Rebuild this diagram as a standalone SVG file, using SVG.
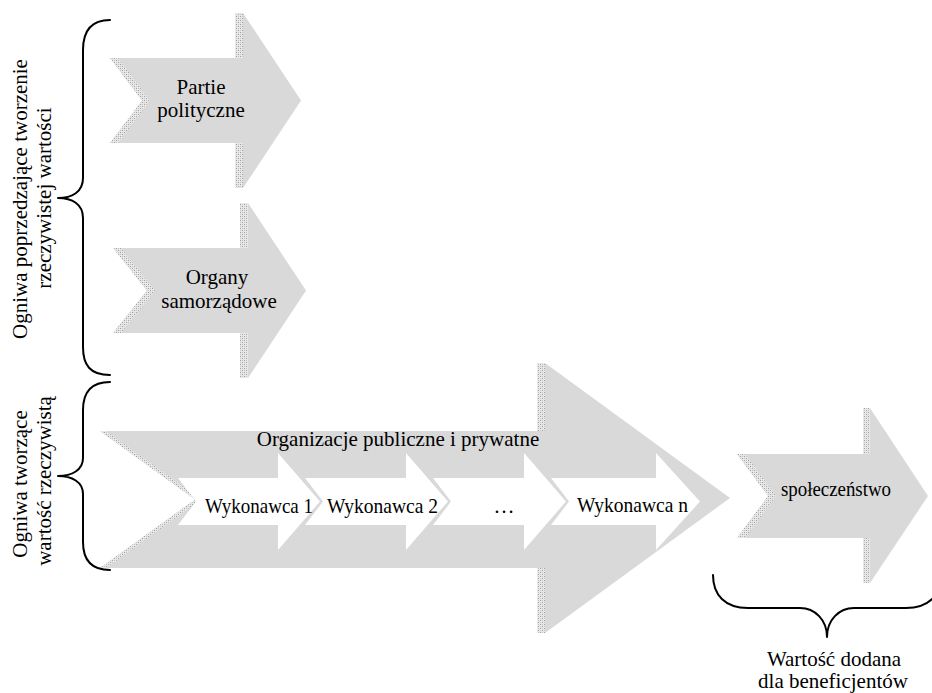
<svg xmlns="http://www.w3.org/2000/svg" width="932" height="693" viewBox="0 0 932 693">
  <style>
    .arrow { fill: #d9d9d9; stroke: none; }
    .hatch { fill: url(#hatch); stroke: none; }
    .inner { fill: #ffffff; stroke: none; }
    .brace { fill: none; stroke: #000000; stroke-width: 2; stroke-linecap: round; stroke-linejoin: round; }
    text { font-family: "Liberation Serif", "Times New Roman", serif; font-size: 21px; fill: #000000; }
    .mid { text-anchor: middle; }
  </style>
  <defs>
    <pattern id="hatch" width="4" height="4" patternUnits="userSpaceOnUse">
      <rect width="4" height="4" fill="#e8e8e8"/>
      <rect x="0" y="0" width="1" height="1" fill="#a0a0a0"/>
      <rect x="2" y="2" width="1" height="1" fill="#a0a0a0"/>
      <rect x="2" y="0" width="1" height="1" fill="#c4c4c4"/>
      <rect x="0" y="2" width="1" height="1" fill="#c4c4c4"/>
    </pattern>
  </defs>

  <rect width="932" height="693" fill="#ffffff"/>

  <g id="partie" font-family="Liberation Serif, serif">
    <polygon class="arrow" points="110,58 243,58 243,13 301,100.5 243,188 243,143 110,143 142,100.5"/>
    <rect class="hatch" x="235" y="13" width="8" height="45"/>
    <rect class="hatch" x="235" y="143" width="8" height="45"/>
    <polygon class="hatch" points="110,58 118,58 150,100.5 118,143 110,143 142,100.5"/>
    <text class="mid" x="201" y="94">Partie</text>
    <text class="mid" x="201" y="117">polityczne</text>
  </g>

  <g id="organy">
    <polygon class="arrow" points="113,248 248,248 248,203 306,290.5 248,378 248,333 113,333 147,290.5"/>
    <rect class="hatch" x="240" y="203" width="8" height="45"/>
    <rect class="hatch" x="240" y="333" width="8" height="45"/>
    <polygon class="hatch" points="113,248 121,248 155,290.5 121,333 113,333 147,290.5"/>
    <text class="mid" x="217" y="284">Organy</text>
    <text class="mid" x="219" y="308">samorządowe</text>
  </g>

  <g id="organizacje">
    <polygon class="arrow" points="100,431 545,431 545,363 730,498 545,633 545,568 100,568 195,499.5"/>
    <rect class="hatch" x="537" y="363" width="8" height="68"/>
    <rect class="hatch" x="537" y="568" width="8" height="65"/>
    <polygon class="hatch" points="100,431 106,431 201,499.5 106,568 100,568 195,499.5"/>
    <text class="mid" x="398" y="446">Organizacje publiczne i prywatne</text>
  </g>

  <g id="wykonawca1">
    <polygon class="inner" points="178,478 278,478 278,453 320,501.5 278,550 278,525 178,525 196,501.5"/>
    <text x="205" y="513" textLength="108" lengthAdjust="spacingAndGlyphs">Wykonawca 1</text>
  </g>

  <g id="wykonawca2">
    <polygon class="inner" points="305,478 406,478 406,453 448,501.5 406,550 406,525 305,525 323,501.5"/>
    <text x="327" y="513" textLength="111" lengthAdjust="spacingAndGlyphs">Wykonawca 2</text>
  </g>

  <g id="wykonawca-dots">
    <polygon class="inner" points="433,478 524,478 524,453 566,501.5 524,550 524,525 433,525 451,501.5"/>
    <text class="mid" x="504" y="513">…</text>
  </g>

  <g id="wykonawcan">
    <polygon class="inner" points="551,478 656,478 656,453 700,501.5 656,550 656,525 551,525 569,501.5"/>
    <text x="577" y="512" textLength="111" lengthAdjust="spacingAndGlyphs">Wykonawca n</text>
  </g>

  <g id="spoleczenstwo">
    <polygon class="arrow" points="737,454 870,454 870,408 928,496 870,583 870,538 737,538 768,496"/>
    <rect class="hatch" x="863" y="408" width="7" height="46"/>
    <rect class="hatch" x="863" y="538" width="7" height="45"/>
    <polygon class="hatch" points="737,454 745,454 776,496 745,538 737,538 768,496"/>
    <text x="781" y="496" textLength="110" lengthAdjust="spacingAndGlyphs">społeczeństwo</text>
  </g>

  <g id="connectors">
    <path class="brace" d="M110,20 C90,20 83,32 83,50 L83,178 C83,192 72,198 58,198 C72,198 83,204 83,218 L83,347 C83,365 90,375 110,375"/>
    <path class="brace" d="M110,382 C90,382 83,394 83,410 L83,458 C83,470 72,476 58,476 C72,476 83,482 83,494 L83,542 C83,558 90,570 110,570"/>
    <path class="brace" d="M713,575 C713,595 725,608 748,608 L800,608 C815,608 827,620 827,637 C827,620 839,608 854,608 L906,608 C929,608 941,595 941,575"/>
  </g>

  <g id="label-poprzedzajace">
    <text class="mid" transform="translate(27,199) rotate(-90)">Ogniwa poprzedzające tworzenie</text>
    <text class="mid" transform="translate(51,198) rotate(-90)">rzeczywistej wartości</text>
  </g>

  <g id="label-tworzace">
    <text class="mid" transform="translate(27,484) rotate(-90)">Ogniwa tworzące</text>
    <text class="mid" transform="translate(51,481) rotate(-90)">wartość rzeczywistą</text>
  </g>

  <g id="label-wartosc-dodana">
    <text class="mid" x="834" y="666">Wartość dodana</text>
    <text class="mid" x="833" y="688">dla beneficjentów</text>
  </g>
</svg>
